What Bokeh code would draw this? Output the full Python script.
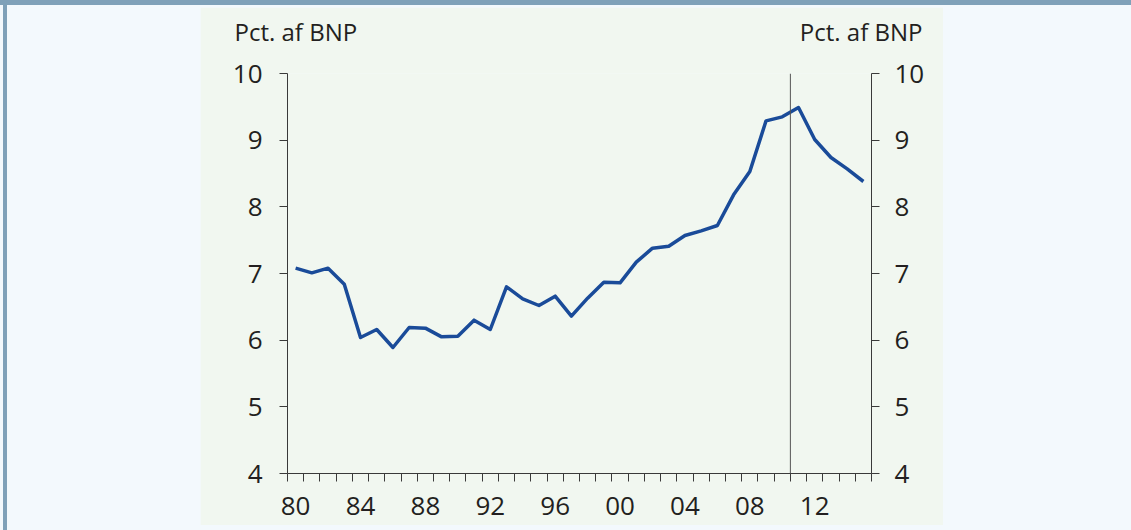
from bokeh.plotting import figure
from bokeh.models import (Range1d, LinearAxis, FixedTicker, Span, Label, Spacer)
from bokeh.layouts import column, row
from bokeh.embed import file_html
from bokeh.resources import INLINE

# ---- data ----
years = list(range(1980, 2016))
share = [7.08, 7.01, 7.08, 6.84, 6.04, 6.16, 5.89, 6.19, 6.18, 6.05,
         6.06, 6.30, 6.16, 6.80, 6.62, 6.52, 6.66, 6.36, 6.63, 6.87,
         6.86, 7.17, 7.38, 7.41, 7.57, 7.64, 7.72, 8.18, 8.53, 9.29,
         9.35, 9.49, 9.01, 8.74, 8.57, 8.38]
x_label_years = [1980, 1984, 1988, 1992, 1996, 2000, 2004, 2008, 2012]
x_labels = ["80", "84", "88", "92", "96", "00", "04", "08", "12"]
y_ticks = [4, 5, 6, 7, 8, 9, 10]
unit_label = "Pct. af BNP"
break_year = 2011

FONT = "Open Sans"
TXT = "#231f20"
AX = "#3a3a3a"
GREEN = "#f1f7f0"
PAGE = "#f3f9fd"
BAR = "#7fa1b9"
LINE = "#1a4b99"

xc = [y + 0.5 for y in years]

p = figure(width=743, height=518, output_backend="svg", toolbar_location=None,
           x_axis_type=None, y_axis_type=None,
           x_range=Range1d(1980, 2016), y_range=Range1d(4, 10),
           min_border_left=87, min_border_right=72, min_border_top=61,
           min_border_bottom=52)
p.background_fill_color = GREEN
p.border_fill_color = GREEN
p.outline_line_color = None
p.xgrid.visible = False
p.ygrid.visible = False

# x axis
xt = FixedTicker(ticks=[y + 0.5 for y in x_label_years],
                 minor_ticks=list(range(1980, 2017)))
xax = LinearAxis(ticker=xt)
xax.major_label_overrides = {y + 0.5: s for y, s in zip(x_label_years, x_labels)}
xax.major_tick_out = 0
xax.major_tick_in = 0
xax.minor_tick_out = 8
xax.minor_tick_in = 0
xax.minor_tick_line_color = AX
xax.axis_line_color = AX
xax.major_label_text_font = FONT
xax.major_label_text_font_size = "26px"
xax.major_label_text_color = TXT
xax.major_label_standoff = 15
p.add_layout(xax, "below")

for side, so in (("left", 17), ("right", 15)):
    ax = LinearAxis(ticker=FixedTicker(ticks=y_ticks, minor_ticks=[]))
    ax.major_tick_out = 8
    ax.major_tick_in = 0
    ax.major_tick_line_color = AX
    ax.axis_line_color = AX
    ax.minor_tick_line_color = None
    ax.major_label_text_font = FONT
    ax.major_label_text_font_size = "26px"
    ax.major_label_text_color = TXT
    ax.major_label_standoff = so
    p.add_layout(ax, side)

p.add_layout(Span(location=break_year, dimension="height",
                  line_color="#555555", line_width=1))

p.line(xc, share, line_color=LINE, line_width=3.5, line_join="round")

for xpos, xoff, align in ((1980, -53, "left"), (2016, 51, "right")):
    p.add_layout(Label(x=xpos, y=10, x_offset=xoff, y_offset=42, text=unit_label,
                       text_font=FONT, text_font_size="24px", text_color=TXT,
                       text_align=align, text_baseline="alphabetic",
                       text_line_height=0.5), "above")


def box(w, h, color):
    return Spacer(width=w, height=h, styles={"background-color": color})


inner = column(box(743, 2, PAGE), row(box(193, 518, PAGE), p, width=936, height=518),
               width=936, height=520)
layout = column(box(1131, 5, BAR),
                row(box(3, 525, PAGE), box(4, 525, BAR), inner, width=1131, height=525),
                width=1131, height=530,
                styles={"background-color": PAGE})

open("out.html", "w").write(file_html(layout, INLINE))
